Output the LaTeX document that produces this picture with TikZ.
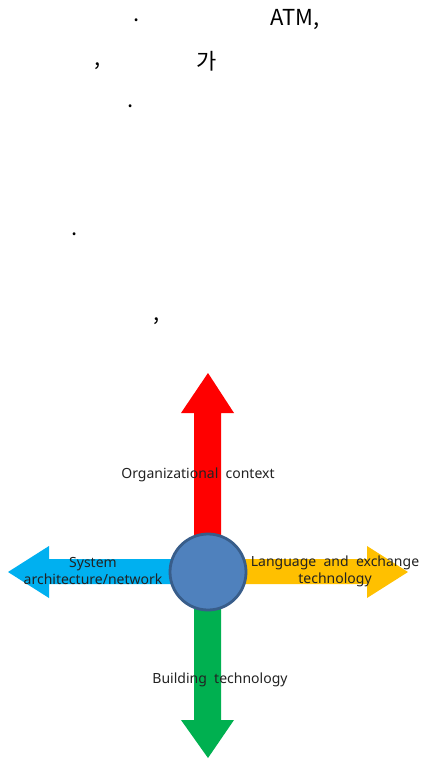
\documentclass[tikz,border=0pt]{standalone}
\usepackage{fontspec}
\setmainfont{Noto Sans}
\newfontfamily\kfont{Noto Sans CJK KR}
\definecolor{ared}{HTML}{FF0000}
\definecolor{ablue}{HTML}{00B0F0}
\definecolor{ayellow}{HTML}{FFC000}
\definecolor{agreen}{HTML}{00B050}
\definecolor{cfill}{HTML}{4F81BD}
\definecolor{cdraw}{HTML}{385D8A}
\definecolor{txt}{HTML}{222222}
\begin{document}
\begin{tikzpicture}[x=1pt,y=-1pt,
  toptext/.style={font=\kfont\fontsize{22}{24}\selectfont, inner sep=0pt, text=black},
  lbl/.style={font=\fontsize{14}{17}\selectfont, inner sep=0pt, text=txt, align=center}]
\useasboundingbox (0,0) rectangle (421,759);
\fill[white] (0,0) rectangle (421,759);
% top text fragments
\node[toptext] (t1) at (137,20) {.};
\node[toptext] (t2) at (295,20) {ATM,};
\node[toptext] (t3) at (98,66) {,};
\node[toptext] (t4) at (207,61) {가};
\node[toptext] (t5) at (131,106) {.};
\node[toptext] (t6) at (75,234) {.};
\node[toptext] (t7) at (157,321) {,};
% arrows
\fill[ared] (194,540) -- (194,413) -- (181,413) -- (208,373) -- (234,413) -- (221,413) -- (221,540) -- cycle;
\fill[agreen] (194,600) -- (194,720) -- (181,720) -- (208,758) -- (234,720) -- (221,720) -- (221,600) -- cycle;
\fill[ablue] (180,559) -- (49,559) -- (49,546) -- (8,572) -- (49,598) -- (49,584) -- (180,584) -- cycle;
\fill[ayellow] (236,559) -- (367,559) -- (367,546) -- (408,572) -- (367,598) -- (367,584) -- (236,584) -- cycle;
% center circle
\node[circle, minimum size=76pt, inner sep=0pt, fill=cfill, draw=cdraw, line width=2.8pt] (c) at (208,572) {};
% labels
\node[lbl] (lo) at (198,475) {Organizational\ \ context};
\node[lbl] (ls) at (93,571) {System\\architecture/network};
\node[lbl] (ll) at (335,571) {Language\ \ and\ \ exchange\\technology};
\node[lbl] (lb) at (220,680) {Building\ \ technology};
\end{tikzpicture}
\end{document}
